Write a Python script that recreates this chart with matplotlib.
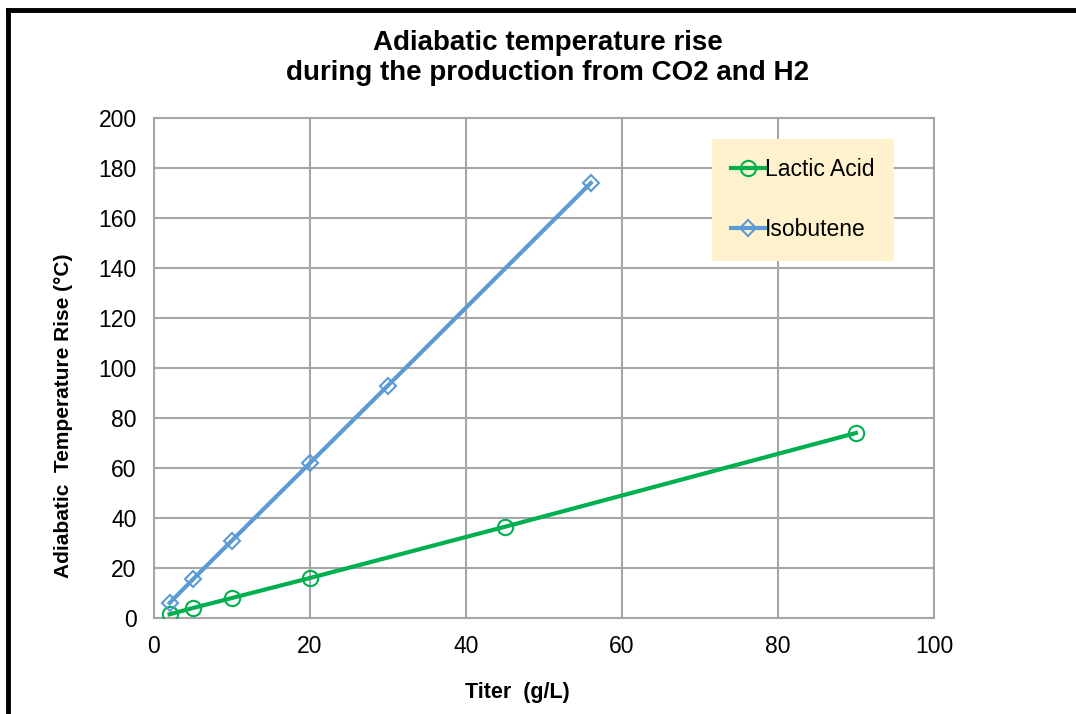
import matplotlib
matplotlib.use('Agg')
import matplotlib.pyplot as plt
from matplotlib.lines import Line2D

plt.rcParams['font.family'] = ['Liberation Sans', 'DejaVu Sans']

# data
lactic_x = [2, 5, 10, 20, 45, 90]
lactic_y = [1.5, 4, 8, 16, 36.5, 74]
isobutene_x = [2, 5, 10, 20, 30, 56]
isobutene_y = [6, 15.5, 31, 62, 93, 174]

x_ticks = [0, 20, 40, 60, 80, 100]
y_ticks = [0, 20, 40, 60, 80, 100, 120, 140, 160, 180, 200]

grid_color = '#A6A6A6'

fig = plt.figure(figsize=(10.76, 7.14), dpi=100)
ax = fig.add_axes([154 / 1076, 1 - 618 / 714, 780 / 1076, 500 / 714])

ax.plot(lactic_x, lactic_y, color='#00B050', linewidth=3, marker='o',
        markersize=11, markerfacecolor='none', markeredgecolor='#00B050',
        markeredgewidth=1.5, label='Lactic Acid', zorder=3)
ax.plot(isobutene_x, isobutene_y, color='#5B9BD5', linewidth=3, marker='D',
        markersize=8, markerfacecolor='none', markeredgecolor='#5B9BD5',
        markeredgewidth=1.5, label='Isobutene', zorder=3)

ax.set_xlim(0, 100)
ax.set_ylim(0, 200)
ax.set_xticks(x_ticks)
ax.set_yticks(y_ticks)
ax.tick_params(length=0, labelsize=16.5)
ax.tick_params(axis='x', pad=12.5)
ax.tick_params(axis='y', pad=12.5)
ax.grid(True, color=grid_color, linewidth=1.5)
ax.set_axisbelow(True)
for sp in ax.spines.values():
    sp.set_color(grid_color)
    sp.set_linewidth(1.5)

ax.set_xlabel('Titer  (g/L)', fontsize=15.5, fontweight='bold')
ax.xaxis.set_label_coords(0.466, -0.128)
ax.set_ylabel('Adiabatic  Temperature Rise (°C)', fontsize=15, fontweight='bold')
ax.yaxis.set_label_coords(-0.104, 0.404)

fig.text(548 / 1076, 1 - 58 / 714,
         'Adiabatic temperature rise\nduring the production from CO2 and H2',
         ha='center', va='center', fontsize=20, fontweight='bold', linespacing=1.2)

leg = ax.legend(loc='upper left', bbox_to_anchor=(712 / 1076, 1 - 139 / 714),
                bbox_transform=fig.transFigure, fontsize=16.5, frameon=True,
                fancybox=False, handlelength=1.45, handletextpad=0.0,
                labelspacing=1.6, borderpad=0.85, borderaxespad=0)
leg.get_frame().set_facecolor('#FFF2CC')
leg.get_frame().set_edgecolor('none')
leg.get_frame().set_alpha(1)

# outer frame (top and left only, like the cropped screenshot)
fig.add_artist(Line2D([8 / 1076, 1.0], [1 - 10 / 714, 1 - 10 / 714],
                      transform=fig.transFigure, color='black', linewidth=3.5))
fig.add_artist(Line2D([8 / 1076, 8 / 1076], [0.0, 1 - 10 / 714],
                      transform=fig.transFigure, color='black', linewidth=3.5))

fig.savefig('out.png', dpi=100)
